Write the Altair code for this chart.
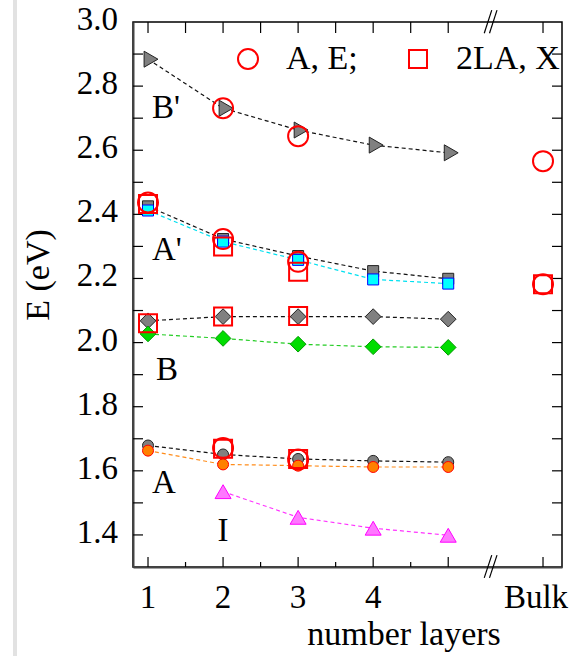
import altair as alt
import pandas as pd

# ---- data -------------------------------------------------------------
layers = [1, 2, 3, 4, 5]
BULK = 6.263                      # x position of the bulk column

b_prime_gray = [2.884, 2.731, 2.663, 2.616, 2.592]
a_prime_gray = [2.425, 2.323, 2.270, 2.223, 2.199]
a_prime_cyan = [2.412, 2.315, 2.258, 2.197, 2.184]
b_gray = [2.068, 2.081, 2.081, 2.081, 2.073]
b_green = [2.027, 2.013, 1.995, 1.987, 1.985]
a_gray = [1.679, 1.651, 1.637, 1.631, 1.627]
a_orange = [1.663, 1.620, 1.616, 1.612, 1.612]
i_layers = [2, 3, 4, 5]
i_magenta = [1.535, 1.455, 1.421, 1.399]

# reference energies drawn as open red symbols
ae_n = [1, 2, 3, BULK, 2, 3, BULK, 2, 3]
ae_E = [2.437, 2.731, 2.644, 2.566, 2.323, 2.252, 2.182, 1.671, 1.635]
la_n = [1, 2, 3, BULK, 1, 2, 3, 2, 3]
la_E = [2.432, 2.300, 2.221, 2.182, 2.060, 2.081, 2.083, 1.669, 1.637]
ref_names = ["A, E;", "2LA, X"]

# peak labels
peak_text = ["B'", "A'", "B", "A"]
peak_n = [1.053, 1.053, 1.107, 1.053]
peak_E = [2.700, 2.258, 1.882, 1.531]
i_text = ["I"]
i_n = [2.0]
i_E = [1.381]

# axis ticks and tick labels
x_label_values = [1, 2, 3, 4]
bulk_text = ["Bulk"]
bulk_n = [BULK]
x_major = [1, 2, 3, 4, 5, BULK]
x_minor = [1.5, 2.5, 3.5, 4.5]
x_top = [1, 1.5, 2, 2.5, 3, 3.5, 4, 4.5, 5, BULK]
y_label_values = [1.4, 1.6, 1.8, 2.0, 2.2, 2.4, 2.6, 2.8, 3.0]
y_ticks = [1.4, 1.5, 1.6, 1.7, 1.8, 1.9, 2.0, 2.1, 2.2, 2.3, 2.4, 2.5, 2.6, 2.7, 2.8, 2.9]
x_title = "number layers"
y_title = "E (eV)"

# axis break marks ("//") on the top and bottom edges
brk_n = [5.48, 5.55]
brk_n2 = [5.58, 5.65]
brk_top = (2.965, 3.037)
brk_bot = (1.266, 1.337)

# ---- layout -----------------------------------------------------------
W, H = 429, 545
FONT = "Liberation Serif"
xs = alt.Scale(domain=[0.8, 6.516], nice=False, zero=False)
ys = alt.Scale(domain=[1.3, 3.0], nice=False, zero=False)

# axes keep only their domain lines; labels and titles are text marks below
y_axis = alt.Axis(values=y_label_values, labels=False, title=None)
x_axis = alt.Axis(values=x_label_values, labels=False, title=None)


def X(field="n", axis=alt.Undefined):
    return alt.X(f"{field}:Q", scale=xs, axis=axis)


def Y(field="E", axis=alt.Undefined):
    return alt.Y(f"{field}:Q", scale=ys, axis=axis)


def series(ns, es, shape, fill, stroke, size, line_color, x_offset=0):
    df = pd.DataFrame({"n": ns, "E": es})
    line = alt.Chart(df).mark_line(
        color=line_color, strokeWidth=1.2, strokeDash=[4, 3]
    ).encode(x=X(), y=Y())
    pts = alt.Chart(df).mark_point(
        shape=shape, filled=True, fill=fill, stroke=stroke, strokeWidth=1,
        size=size, opacity=1, xOffset=x_offset
    ).encode(x=X(), y=Y())
    return line, pts


GRAY, DARK = "#808080", "#222222"
s_bp = series(layers, b_prime_gray, "triangle-right", GRAY, DARK, 256, "#111111", 3)
s_apg = series(layers, a_prime_gray, "square", GRAY, DARK, 121, "#111111")
s_apc = series(layers, a_prime_cyan, "square", "#00ffff", "#0000ff", 121, "#00e0f0")
s_bg = series(layers, b_gray, "diamond", GRAY, DARK, 246, "#111111")
s_bgr = series(layers, b_green, "diamond", "#00dd00", "#009900", 246, "#22cc22")
s_ag = series(layers, a_gray, "circle", GRAY, DARK, 121, "#111111")
s_ao = series(layers, a_orange, "circle", "#ff8000", "#ff0000", 121, "#ff8c1a")
s_i = series(i_layers, i_magenta, "triangle-up", "#ff77ff", "#ff00ff", 256, "#ff33ff")

lines = [s[0] for s in (s_bp, s_apg, s_apc, s_bg, s_bgr, s_ag, s_ao, s_i)]
points = [s[1] for s in (s_bp, s_apg, s_bg, s_ag, s_apc, s_bgr, s_ao, s_i)]

# invisible layer that carries the two axes
axis_host = alt.Chart(pd.DataFrame({"n": layers, "E": b_prime_gray})).mark_point(
    opacity=0).encode(x=X("n", x_axis), y=Y("E", y_axis))

ref_df = pd.DataFrame({
    "n": ae_n + la_n,
    "E": ae_E + la_E,
    "kind": [ref_names[0]] * len(ae_n) + [ref_names[1]] * len(la_n),
})
ref_legend = alt.Legend(
    title=None, orient="none", legendX=98, legendY=20,
    direction="horizontal", padding=0, columnPadding=43,
    labelFont=FONT, labelFontSize=34, labelColor="black",
    labelOffset=21, labelLimit=0,
    symbolStrokeColor="red", symbolFillColor="transparent", symbolStrokeWidth=2)
refs = alt.Chart(ref_df).mark_point(
    filled=False, color="red", stroke="red", strokeWidth=2, opacity=1
).encode(
    x=X(), y=Y(),
    shape=alt.Shape("kind:N", scale=alt.Scale(domain=ref_names, range=["circle", "square"]),
                    legend=ref_legend),
    size=alt.Size("kind:N", scale=alt.Scale(domain=ref_names, range=[400, 324]),
                  legend=ref_legend),
)

# ---- inward ticks and frame decorations --------------------------------
tick_style = dict(color="black", strokeWidth=1.2)
left_ticks = alt.Chart(pd.DataFrame({"v": y_ticks})).mark_rule(**tick_style).encode(
    y=Y("v"), x=alt.value(0), x2=alt.value(10))
right_ticks = alt.Chart(pd.DataFrame({"v": y_ticks})).mark_rule(**tick_style).encode(
    y=Y("v"), x=alt.value(W - 10), x2=alt.value(W))
bottom_major = alt.Chart(pd.DataFrame({"v": x_major})).mark_rule(**tick_style).encode(
    x=X("v"), y=alt.value(H), y2=alt.value(H - 10))
bottom_minor = alt.Chart(pd.DataFrame({"v": x_minor})).mark_rule(**tick_style).encode(
    x=X("v"), y=alt.value(H), y2=alt.value(H - 5))
top_ticks = alt.Chart(pd.DataFrame({"v": x_top})).mark_rule(**tick_style).encode(
    x=X("v"), y=alt.value(0), y2=alt.value(11))

brk_df = pd.DataFrame({
    "a": brk_n * 2, "b": brk_n2 * 2,
    "lo": [brk_top[0]] * 2 + [brk_bot[0]] * 2,
    "hi": [brk_top[1]] * 2 + [brk_bot[1]] * 2,
})
breaks = alt.Chart(brk_df).mark_rule(color="black", strokeWidth=1.2).encode(
    x=X("a"), x2="b:Q", y=Y("lo"), y2="hi:Q")

# ---- text: tick labels, axis titles, peak names -------------------------
txt = dict(font=FONT, color="black")
y_labels = alt.Chart(pd.DataFrame({"v": y_label_values})).mark_text(
    fontSize=33, align="right", baseline="alphabetic", dy=8, **txt
).encode(y=Y("v"), x=alt.value(-15), text=alt.Text("v:Q", format=".1f"))
x_labels = alt.Chart(pd.DataFrame({"v": x_label_values})).mark_text(
    fontSize=33, align="center", baseline="alphabetic", **txt
).encode(x=X("v"), y=alt.value(H + 41), text=alt.Text("v:Q", format="d"))
# bulk column label, nudged left to stay inside the page
bulk_lab = alt.Chart(pd.DataFrame({"t": bulk_text, "n": bulk_n})).mark_text(
    fontSize=33, align="center", baseline="alphabetic", dx=-7, **txt
).encode(x=X(), y=alt.value(H + 41), text="t:N")
x_title_mark = alt.Chart(pd.DataFrame({"t": [x_title]})).mark_text(
    fontSize=34, align="center", baseline="alphabetic", **txt
).encode(x=alt.value(271), y=alt.value(623), text="t:N")
y_title_mark = alt.Chart(pd.DataFrame({"t": [y_title]})).mark_text(
    fontSize=34, align="center", baseline="alphabetic", angle=270, **txt
).encode(x=alt.value(-84), y=alt.value(253), text="t:N")

peaks = alt.Chart(pd.DataFrame({"t": peak_text, "n": peak_n, "E": peak_E})).mark_text(
    fontSize=33, align="left", baseline="alphabetic", **txt
).encode(x=X(), y=Y(), text="t:N")
i_lab = alt.Chart(pd.DataFrame({"t": i_text, "n": i_n, "E": i_E})).mark_text(
    fontSize=33, align="center", baseline="alphabetic", **txt
).encode(x=X(), y=Y(), text="t:N")

# page divider at the far left
divider = alt.Chart(pd.DataFrame({"k": [0]})).mark_rule(color="#e2e2e2", strokeWidth=4).encode(
    x=alt.value(-118), y=alt.value(-22), y2=alt.value(634))

chart = alt.layer(
    axis_host, left_ticks, bottom_major, right_ticks, bottom_minor, top_ticks, breaks,
    *lines, *points, refs, peaks, i_lab,
    y_labels, x_labels, bulk_lab, x_title_mark, y_title_mark, divider,
).properties(
    width=W, height=H,
    autosize=alt.AutoSizeParams(type="none"),
    padding={"left": 133, "top": 22, "right": 7, "bottom": 89},
    background="white",
).configure_view(
    stroke="black", strokeWidth=1.5
).configure_axis(
    grid=False, ticks=False, labels=False, title=None,
    domainColor="#444444", domainWidth=2,
)

chart.save("out.html", embed_options={"renderer": "svg", "actions": False})
